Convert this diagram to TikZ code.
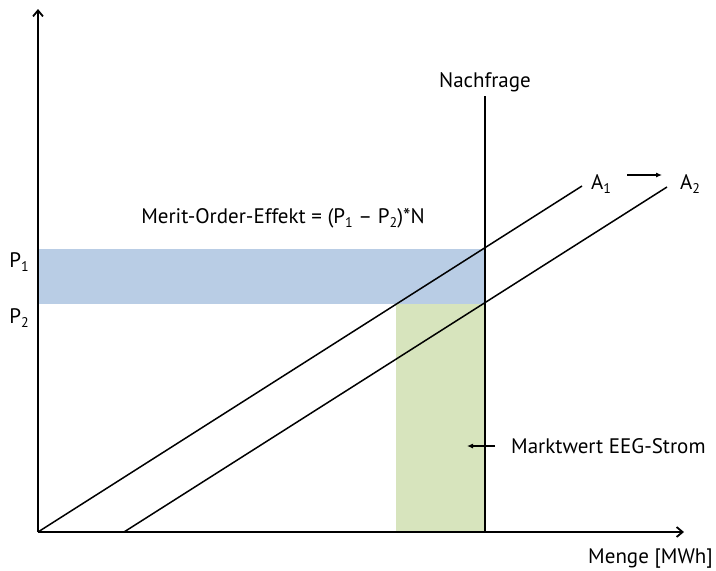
\documentclass[tikz,border=0pt]{standalone}
\usepackage{fontspec}
\setmainfont{PT Sans}
\usetikzlibrary{arrows.meta}
\definecolor{effectblue}{HTML}{B9CDE5}
\definecolor{valuegreen}{HTML}{D7E4BD}
% lowered index in the text font
\newcommand{\idx}[1]{\raisebox{-0.45ex}{\fontsize{14}{14}\selectfont #1}}
\tikzset{
  axis/.style={line width=2pt, -{Straight Barb[length=6pt,width=10pt,line width=1.8pt]}},
  curve/.style={line width=1.5pt},
  label/.style={font=\fontsize{21}{24}\selectfont, inner sep=0pt},
  pointer/.style={line width=1.1pt, -{Latex[length=6pt,width=5pt]}}
}
\begin{document}
\begin{tikzpicture}[x=1pt,y=-1pt]
  \useasboundingbox (0,0) rectangle (716,571);
  % shaded areas
  \fill[effectblue] (38,249) rectangle (485,304);
  \fill[valuegreen] (396,304) rectangle (485,532);
  % key points
  \coordinate (O) at (38,532);
  \coordinate (ytop) at (38,9);
  \coordinate (xend) at (684,532);
  \coordinate (a2start) at (124,532);
  \coordinate (a1end) at (582,186);
  \coordinate (a2end) at (667,187);
  \coordinate (ntop) at (485,96);
  \coordinate (nbot) at (485,532);
  % demand and supply curves
  \draw[curve] (ntop) -- (nbot);
  \draw[curve] (O) -- (a1end);
  \draw[curve] (a2start) -- (a2end);
  % axes
  \draw[axis] (O) -- (ytop);
  \draw[axis] (O) -- (xend);
  % labels
  \node[label] (nachfrage) at (485,82) {Nachfrage};
  \node[label] (A1) at (601,184) {A\idx{1}};
  \node[label] (A2) at (690,184) {A\idx{2}};
  \coordinate (sfrom) at (627,175);
  \coordinate (sto) at (662,175);
  \draw[pointer] (sfrom) -- (sto);
  \node[label] (merit) at (283,218) {Merit-Order-Effekt = (P\idx{1} – P\idx{2})*N};
  \node[label] (P1) at (19,262) {P\idx{1}};
  \node[label] (P2) at (19,318) {P\idx{2}};
  \node[label, anchor=west] (markt) at (511,446) {Marktwert EEG-Strom};
  \coordinate (mfrom) at (495,446);
  \coordinate (mto) at (467,446);
  \draw[pointer] (mfrom) -- (mto);
  \node[label, anchor=east] (menge) at (713,559) {Menge [MWh]};
\end{tikzpicture}
\end{document}
